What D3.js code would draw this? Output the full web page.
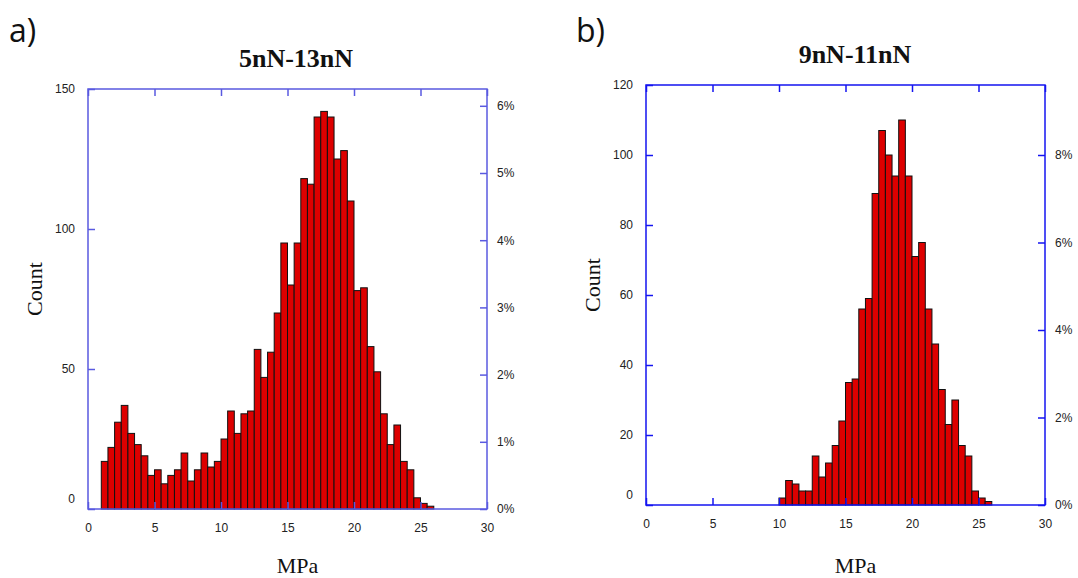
<!DOCTYPE html>
<html>
<head>
<meta charset="utf-8">
<script src="https://cdn.jsdelivr.net/npm/d3@7"></script>
<style>
  body { margin: 0; background: #fff; }
  svg { display: block; }
  .tick text { font-family: "Liberation Sans", Arial, sans-serif; font-size: 12px; fill: #222; }
</style>
</head>
<body>
<svg id="chart" width="1078" height="578"></svg>
<script>
"use strict";

// bin left edges (MPa), bin width 0.5
var binsA = [1, 1.5, 2, 2.5, 3, 3.5, 4, 4.5, 5, 5.5, 6, 6.5, 7, 7.5, 8, 8.5, 9, 9.5, 10, 10.5,
             11, 11.5, 12, 12.5, 13, 13.5, 14, 14.5, 15, 15.5, 16, 16.5, 17, 17.5, 18, 18.5, 19, 19.5, 20, 20.5,
             21, 21.5, 22, 22.5, 23, 23.5, 24, 24.5, 25, 25.5];
var countsA = [17, 22, 31, 37, 27, 23, 19, 12, 14, 9, 12, 14, 20, 10, 14, 20, 15, 17, 25, 35,
               27, 34, 35, 57, 47, 56, 70, 95, 80, 95, 118, 116, 140, 142, 140, 125, 128, 110, 78, 79,
               58, 49, 34, 23, 30, 17, 14, 4, 2, 1];
var totalA = 2400;

var binsB = [10, 10.5, 11, 11.5, 12, 12.5, 13, 13.5, 14, 14.5, 15, 15.5, 16, 16.5, 17, 17.5,
             18, 18.5, 19, 19.5, 20, 20.5, 21, 21.5, 22, 22.5, 23, 23.5, 24, 24.5, 25, 25.5];
var countsB = [2, 7, 6, 4, 4, 14, 8, 12, 17, 24, 35, 36, 56, 59, 89, 107,
               100, 94, 110, 94, 71, 75, 56, 46, 33, 23, 30, 17, 14, 4, 2, 1];
var totalB = 1250;

var binWidth = 0.5;
var xTicks = [0, 5, 10, 15, 20, 25, 30];
var countTicksA = [0, 50, 100, 150];
var pctTicksA = [0, 1, 2, 3, 4, 5, 6];
var countTicksB = [0, 20, 40, 60, 80, 100, 120];
var pctTicksB = [0, 2, 4, 6, 8];

var svg = d3.select("#chart");

function panel(opt) {
  var left = opt.left, top = opt.top, width = 399, height = 420;

  var x = d3.scaleLinear().domain([0, 30]).range([0, width]),
      y = d3.scaleLinear().domain([0, opt.countTicks[opt.countTicks.length - 1]]).range([height, 0]),
      yPct = d3.scaleLinear().domain([0, y.domain()[1] / opt.total * 100]).range([height, 0]);

  var g = svg.append("g").attr("transform", "translate(" + left + "," + top + ")");

  // bars
  g.selectAll("rect.bar")
    .data(opt.bins.map(function(b, i) { return {x0: b, n: opt.counts[i]}; }))
    .enter().append("rect")
      .attr("class", "bar")
      .attr("x", function(d) { return x(d.x0); })
      .attr("width", function(d) { return x(d.x0 + binWidth) - x(d.x0); })
      .attr("y", function(d) { return y(d.n); })
      .attr("height", function(d) { return y(0) - y(d.n); })
      .attr("fill", "#dd0000")
      .attr("stroke", "#111")
      .attr("stroke-width", 1);

  // axes, ticks pointing inwards
  var bottom = g.append("g").attr("transform", "translate(0," + height + ")")
    .call(d3.axisBottom(x).tickValues(xTicks).tickSize(-7).tickPadding(14).tickSizeOuter(0));
  var topAx = g.append("g")
    .call(d3.axisTop(x).tickValues(xTicks).tickSize(-7).tickFormat("").tickSizeOuter(0));
  var leftAx = g.append("g")
    .call(d3.axisLeft(y).tickValues(opt.countTicks).tickSize(-7).tickPadding(13).tickSizeOuter(0));
  var rightAx = g.append("g").attr("transform", "translate(" + width + ",0)")
    .call(d3.axisRight(yPct).tickValues(opt.pctTicks).tickSize(-7).tickPadding(10)
      .tickFormat(function(d) { return d + "%"; }).tickSizeOuter(0));

  [bottom, topAx, leftAx, rightAx].forEach(function(a) {
    a.select(".domain").remove();
    a.selectAll(".tick line").attr("stroke", opt.frame).attr("stroke-width", 1.5);
  });
  // the zero of the count axis sits a bit above the corner
  leftAx.selectAll(".tick").filter(function(d) { return d === 0; })
    .select("text").attr("dy", "-0.55em");

  g.append("rect")
    .attr("width", width).attr("height", height)
    .attr("fill", "none").attr("stroke", opt.frame).attr("stroke-width", 1.5);

  // labels
  svg.append("text").text(opt.letter)
    .attr("x", opt.letterX).attr("y", 42)
    .attr("font-family", "Open Sans, Liberation Sans, sans-serif").attr("font-size", 32).attr("fill", "#111");
  svg.append("text").text(opt.title)
    .attr("x", left + opt.titleDx).attr("y", opt.titleY).attr("text-anchor", "middle")
    .attr("font-family", "Liberation Serif, Times New Roman, serif").attr("font-weight", "bold")
    .attr("font-size", 26).attr("fill", "#111");
  svg.append("text").text("MPa")
    .attr("x", left + width / 2 + 10).attr("y", 573).attr("text-anchor", "middle")
    .attr("font-family", "Liberation Serif, Times New Roman, serif").attr("font-size", 22).attr("fill", "#111");
  svg.append("text").text("Count")
    .attr("transform", "translate(" + (left - 46) + "," + (top + 200) + ") rotate(-90)")
    .attr("text-anchor", "middle")
    .attr("font-family", "Liberation Serif, Times New Roman, serif").attr("font-size", 22).attr("fill", "#111");
}

panel({left: 88, top: 89, bins: binsA, counts: countsA, total: totalA,
       countTicks: countTicksA, pctTicks: pctTicksA, frame: "#5a5ae0",
       letter: "a)", letterX: 9, title: "5nN-13nN", titleDx: 208, titleY: 67});
panel({left: 646, top: 85, bins: binsB, counts: countsB, total: totalB,
       countTicks: countTicksB, pctTicks: pctTicksB, frame: "#1414f0",
       letter: "b)", letterX: 576, title: "9nN-11nN", titleDx: 209, titleY: 63});
</script>
</body>
</html>
